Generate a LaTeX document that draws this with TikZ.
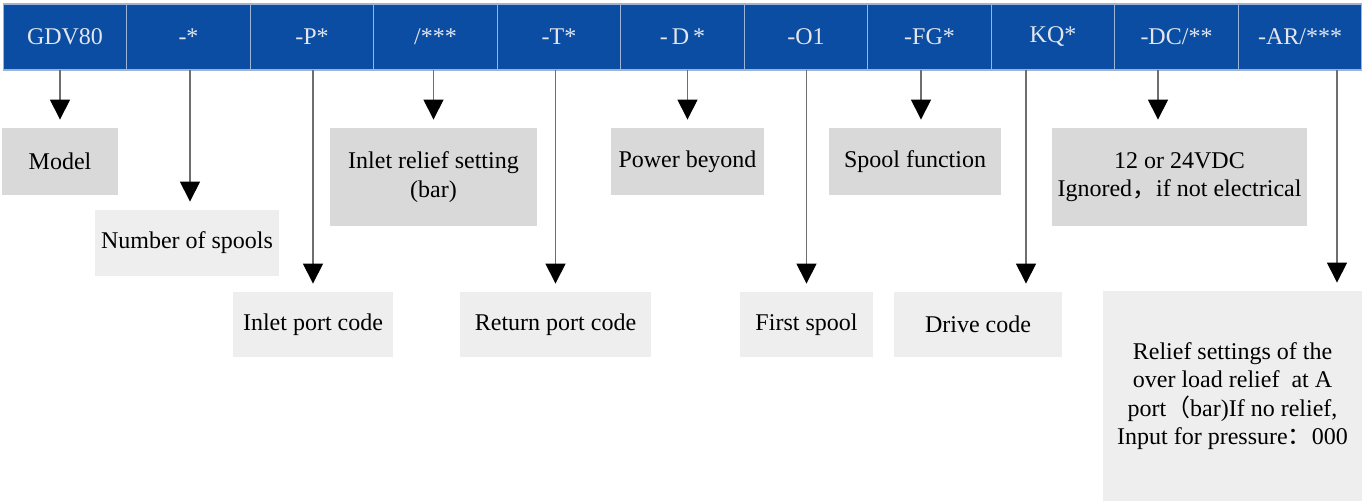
\documentclass[tikz,border=0pt]{standalone}
\usepackage{fontspec}
\setmainfont{Liberation Serif}
\newfontfamily\cjkfont{Noto Sans CJK SC}
\usetikzlibrary{arrows.meta, positioning}
\definecolor{gdvblue}{HTML}{0B4DA2}
\definecolor{gdvrule}{HTML}{9DB4D6}
\definecolor{gdvtext}{HTML}{E4E6EC}
\definecolor{gdvdark}{HTML}{D9D9D9}
\definecolor{gdvlight}{HTML}{EDEEED}
\definecolor{gdvline}{HTML}{6E6E6E}
\tikzset{
  codecell/.style={fill=gdvblue, draw=gdvrule, line width=0.6pt, text=gdvtext,
    minimum width=61.75pt, minimum height=33pt, inner sep=0pt, outer sep=0pt},
  darkbox/.style={fill=gdvdark, align=center, inner sep=0pt},
  lightbox/.style={fill=gdvlight, align=center, inner sep=0pt},
  pointer/.style={draw=gdvline, line width=0.6pt, shorten >=4pt,
    -{Triangle[width=10pt, length=10pt, color=black]}},
}

\begin{document}
\begin{tikzpicture}[x=0.5pt, y=-0.5pt, font=\fontsize{12pt}{14.25pt}\selectfont]
    \useasboundingbox (0,0) rectangle (1362,501);
    \node[codecell] (h01) at (65,37) {GDV80};
    \node[codecell, right=0pt of h01] (h02) {-*};
    \node[codecell, right=0pt of h02] (h03) {-P*};
    \node[codecell, right=0pt of h03] (h04) {/***};
    \node[codecell, right=0pt of h04] (h05) {-T*};
    \node[codecell, right=0pt of h05] (h06) {-\,D\,*};
    \node[codecell, right=0pt of h06] (h07) {-O1};
    \node[codecell, right=0pt of h07] (h08) {-FG*};
    \node[codecell, right=0pt of h08] (h09) {KQ*};
    \node[codecell, right=0pt of h09] (h10) {-DC/**};
    \node[codecell, right=0pt of h10] (h11) {-AR/***};

    \node[darkbox, minimum width=58pt, minimum height=33.5pt] (model) at (60,161.5) {Model};
    \node[lightbox, minimum width=92pt, minimum height=33pt] (spools) at (187,243) {Number of spools};
    \node[lightbox, minimum width=80pt, minimum height=32.5pt] (inport) at (313,324.5) {Inlet port code};
    \node[darkbox, minimum width=103.5pt, minimum height=49pt] (inrelief) at (433.5,177) {Inlet relief setting\\(bar)};
    \node[lightbox, minimum width=95.5pt, minimum height=32.5pt] (retport) at (555.5,324.5) {Return port code};
    \node[darkbox, minimum width=76.5pt, minimum height=33.5pt] (beyond) at (687.5,161.5) {Power beyond};
    \node[lightbox, minimum width=66.5pt, minimum height=32.5pt] (first) at (806.5,324.5) {First spool};
    \node[darkbox, minimum width=86pt, minimum height=33.5pt] (spoolfn) at (915,161.5) {Spool function};
    \node[lightbox, minimum width=84pt, minimum height=32.5pt] (drive) at (978,324.5) {Drive code};
    \node[darkbox, minimum width=127.5pt, minimum height=49pt] (voltage) at (1179.5,177)
      {12 or 24VDC\\Ignored{\cjkfont ，}if not electrical};
    \node[lightbox, minimum width=129.5pt, minimum height=105pt] (arrelief) at (1232.5,396)
      {Relief settings of the\\over load relief\ \ at A\\port{\cjkfont （}bar)If no relief,\\Input for pressure{\cjkfont ：}000};

    \draw[pointer] (h01.south -| model.north) -- (model.north);
    \draw[pointer] ([xshift=1.5pt]spools.north |- h02.south) -- ([xshift=1.5pt]spools.north);
    \draw[pointer] (h03.south -| inport.north) -- (inport.north);
    \draw[pointer] (h04.south -| inrelief.north) -- (inrelief.north);
    \draw[pointer] (h05.south -| retport.north) -- (retport.north);
    \draw[pointer] (h06.south -| beyond.north) -- (beyond.north);
    \draw[pointer] (h07.south -| first.north) -- (first.north);
    \draw[pointer] ([xshift=3pt]spoolfn.north |- h08.south) -- ([xshift=3pt]spoolfn.north);
    \draw[pointer] ([xshift=24pt]drive.north |- h09.south) -- ([xshift=24pt]drive.north);
    \draw[pointer] ([xshift=-10.75pt]voltage.north |- h10.south) -- ([xshift=-10.75pt]voltage.north);
    \draw[pointer] ([xshift=52.25pt]arrelief.north |- h11.south) -- ([xshift=52.25pt]arrelief.north);
  \end{tikzpicture}
\end{document}
